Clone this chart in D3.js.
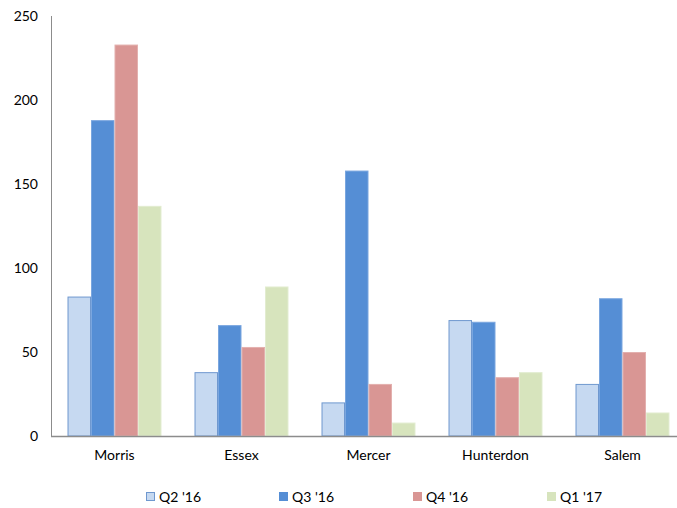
<!DOCTYPE html>
<html><head><meta charset="utf-8">
<script src="https://cdn.jsdelivr.net/npm/d3@7"></script>
<style>body{margin:0;background:#fff}text{font-family:Lato,"Open Sans",sans-serif;fill:#000}</style>
</head><body><svg id="c" width="677" height="508"></svg>
<script>
const categories = ["Morris","Essex","Mercer","Hunterdon","Salem"];
const seriesNames = ["Q2 '16","Q3 '16","Q4 '16","Q1 '17"];
const q2_16 = [83,38,20,69,31];
const q3_16 = [188,66,158,68,82];
const q4_16 = [233,53,31,35,50];
const q1_17 = [137,89,8,38,14];
const yTicks = [0,50,100,150,200,250];
const colors = ["#c6d9f1","#558ed5","#d99694","#d7e4bd"];
const strokes = ["#6f98cf","#7aa6df","#e3b0ae","#e2ecd0"];
const series = [q2_16,q3_16,q4_16,q1_17];

const svg = d3.select("#c");
const mL = 51, mR = 686, mT = 16, mB = 436;
const x = d3.scaleBand().domain(categories).range([mL,mR]).paddingInner(0.26).paddingOuter(0.13);
const x1 = d3.scaleBand().domain(seriesNames).range([0,x.bandwidth()]);
const y = d3.scaleLinear().domain([0,250]).range([mB,mT]);

// bars
series.forEach((vals,si)=>{
  svg.append("g").selectAll("rect").data(vals).join("rect")
    .attr("x",(d,i)=>x(categories[i])+x1(seriesNames[si])+0.5)
    .attr("y",d=>y(d)+0.5)
    .attr("width",x1.bandwidth()-1)
    .attr("height",d=>mB-y(d)-0.5)
    .attr("fill",colors[si])
    .attr("stroke",strokes[si]).attr("stroke-width",1);
});

// baseline and y axis
svg.append("line").attr("x1",mL).attr("x2",677).attr("y1",y(0)+0.5).attr("y2",y(0)+0.5).attr("stroke","#8c8c8c").attr("stroke-width",1.5);
svg.append("line").attr("x1",mL+0.5).attr("x2",mL+0.5).attr("y1",mT).attr("y2",mB+1).attr("stroke","#8c8c8c").attr("stroke-width",1);

const yAxis = d3.axisLeft(y).tickValues(yTicks).tickSize(0).tickPadding(13);
const ga = svg.append("g").attr("transform",`translate(${mL},0)`).call(yAxis);
ga.select(".domain").remove();
ga.selectAll("text").attr("font-size",14).style("font-family","Lato,sans-serif").attr("fill","#000");

const xAxis = d3.axisBottom(x).tickSize(0).tickPadding(14);
const gx = svg.append("g").attr("transform",`translate(0,${mB})`).call(xAxis);
gx.select(".domain").remove();
gx.selectAll("text").attr("font-size",14).style("font-family","Lato,sans-serif").attr("fill","#000");

// legend
const legX = [146,279,413,547];
const lg = svg.append("g");
seriesNames.forEach((n,i)=>{
  lg.append("rect").attr("x",legX[i]+0.5).attr("y",492.5).attr("width",8).attr("height",8)
    .attr("fill",colors[i]).attr("stroke",i===0?"#6f98cf":colors[i]);
  lg.append("text").attr("x",legX[i]+13).attr("y",502).attr("font-size",14).text(n);
});
</script></body></html>
